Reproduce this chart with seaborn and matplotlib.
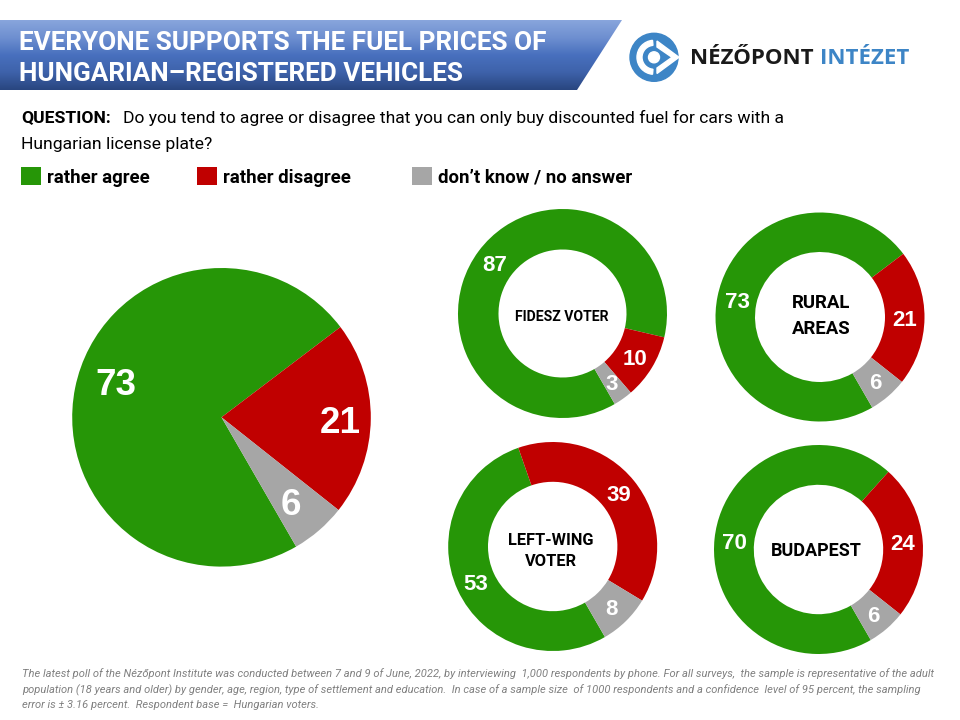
import numpy as np
import matplotlib
matplotlib.use('Agg')
import matplotlib.pyplot as plt
from matplotlib.patches import Circle, Polygon, Rectangle, Wedge
import seaborn as sns

answers = ['rather agree', 'rather disagree', 'don’t know / no answer']
all_voters = [73, 21, 6]
fidesz = [87, 10, 3]
rural = [73, 21, 6]
left_wing = [53, 39, 8]
budapest = [70, 24, 6]

title = 'EVERYONE SUPPORTS THE FUEL PRICES OF\nHUNGARIAN–REGISTERED VEHICLES'
question_1 = 'Do you tend to agree or disagree that you can only buy discounted fuel for cars with a'
question_2 = 'Hungarian license plate?'
notes = ['The latest poll of the Nézőpont Institute was conducted between 7 and 9 of June, 2022, by interviewing  1,000 respondents by phone. For all surveys,  the sample is representative of the adult',
         'population (18 years and older) by gender, age, region, type of settlement and education.  In case of a sample size  of 1000 respondents and a confidence  level of 95 percent, the sampling',
         'error is ± 3.16 percent.  Respondent base =  Hungarian voters.']

colors = sns.color_palette(['#269607', '#c00000', '#a6a6a6'])
narrow = ['Roboto', 'DejaVu Sans']

sns.set_theme(style='white')
plt.rcParams['font.family'] = narrow

fig = plt.figure(figsize=(9.6, 7.2), dpi=100)
ax = fig.add_axes([0, 0, 1, 1])
ax.set_xlim(0, 960)
ax.set_ylim(0, 720)
ax.set_aspect('equal')
ax.axis('off')


def py(y):
    # picture pixels count from the top
    return 720 - y


# header band
band = Polygon([(0, py(20)), (622, py(20)), (577, py(90)), (0, py(90))], closed=True,
               facecolor='none', edgecolor='none')
ax.add_patch(band)
band_colors = np.array([[136, 165, 220], [110, 143, 208], [72, 112, 190], [62, 98, 170], [41, 70, 128]]) / 255
stops = np.linspace(0, 1, len(band_colors))
grad = np.linspace(0, 1, 70)
band_img = np.stack([np.interp(grad, stops, band_colors[:, i]) for i in range(3)], axis=1)[:, None, :]
img = ax.imshow(band_img, extent=(0, 622, py(90), py(20)), aspect='auto', zorder=1)
img.set_clip_path(band)
ax.text(19, py(58.5), title, color='white', fontsize=18.8, fontweight='bold',
        va='center', ha='left', linespacing=1.4, zorder=2)

# logo
blue = '#3d85c6'
ax.add_patch(Circle((654, py(57.3)), 24, color=blue))
ax.add_patch(Wedge((654, py(57.3)), 17, 95, 265, width=5, color='white'))
ax.add_patch(Polygon([(657, py(41)), (679, py(57.3)), (657, py(73.5)), (657, py(68)), (672, py(57.3)), (657, py(47))],
                     closed=True, color='white'))
ax.add_patch(Circle((654, py(57.3)), 5.5, color='white'))
ax.text(690, py(63.5), 'NÉZŐPONT', color='#1a1a1a', fontsize=16, fontweight='bold',
        family=['Open Sans', 'DejaVu Sans'], va='baseline')
ax.text(820, py(63.5), 'INTÉZET', color=blue, fontsize=16, fontweight='bold',
        family=['Open Sans', 'DejaVu Sans'], va='baseline')

# question
ax.text(21, py(118), 'QUESTION:', fontsize=12.6, fontweight='bold', color='black', va='center')
ax.text(123, py(118), question_1, fontsize=12.6, color='black', va='center')
ax.text(21, py(144), question_2, fontsize=12.6, color='black', va='center')

# legend
for x, c, lab in zip([21, 197, 412], colors, answers):
    ax.add_patch(Rectangle((x, py(185)), 20, 18, facecolor=c, edgecolor='none'))
    ax.text(x + 26, py(178), lab, fontsize=13.4, fontweight='bold', color='black', va='center')


def draw_pie(values, cx, cy, r, dist, size, hole=None, name=None, name_xy=None, name_size=13, nudge=None):
    wedgeprops = {'linewidth': 0}
    if hole:
        wedgeprops['width'] = r - hole
    wedges, texts = ax.pie(values, labels=[str(v) for v in values], colors=colors, center=(cx, py(cy)), radius=r,
                           startangle=-60, counterclock=False, labeldistance=dist, wedgeprops=wedgeprops,
                           textprops={'color': 'white', 'fontsize': size, 'fontweight': 'bold',
                                      'family': ['Liberation Sans', 'DejaVu Sans']},
                           frame=True)
    for i, t in enumerate(texts):
        t.set_ha('center')
        t.set_va('center')
        x, y = t.get_position()
        dx, dy = nudge[i] if nudge else (0, 0)
        t.set_position((x + dx, y + dy - 2.5))
    if name:
        ax.text(name_xy[0], py(name_xy[1]), name, color='black', fontsize=name_size, fontweight='bold',
                ha='center', va='center', linespacing=1.55)


draw_pie(all_voters, 221.5, 417.3, 149.3, 0.76, 26.5, nudge=[(6, 12), (5.5, -3), (-4.5, 0)])
draw_pie(fidesz, 562.5, 313.5, 104.5, 0.81, 16, hole=64, name='FIDESZ VOTER', name_xy=(562, 317), name_size=10.1)
draw_pie(rural, 820, 317, 104.5, 0.81, 16, hole=65, name='RURAL\nAREAS', name_xy=(821, 316), name_size=13.4)
draw_pie(left_wing, 552.7, 546.5, 104.5, 0.81, 16, hole=64.7, name='LEFT-WING\nVOTER', name_xy=(551, 551),
         name_size=11.8)
draw_pie(budapest, 818.5, 549.5, 104.5, 0.81, 16, hole=64.7, name='BUDAPEST', name_xy=(816.7, 551))

# pie() resets the limits and ticks
ax.set_xlim(0, 960)
ax.set_ylim(0, 720)
ax.set_aspect('equal')
ax.axis('off')

for y, line in zip([674, 690, 705], notes):
    ax.text(22, py(y), line, fontsize=8.05, style='italic', color='#808080', va='center')

fig.savefig('out.png', dpi=100)
